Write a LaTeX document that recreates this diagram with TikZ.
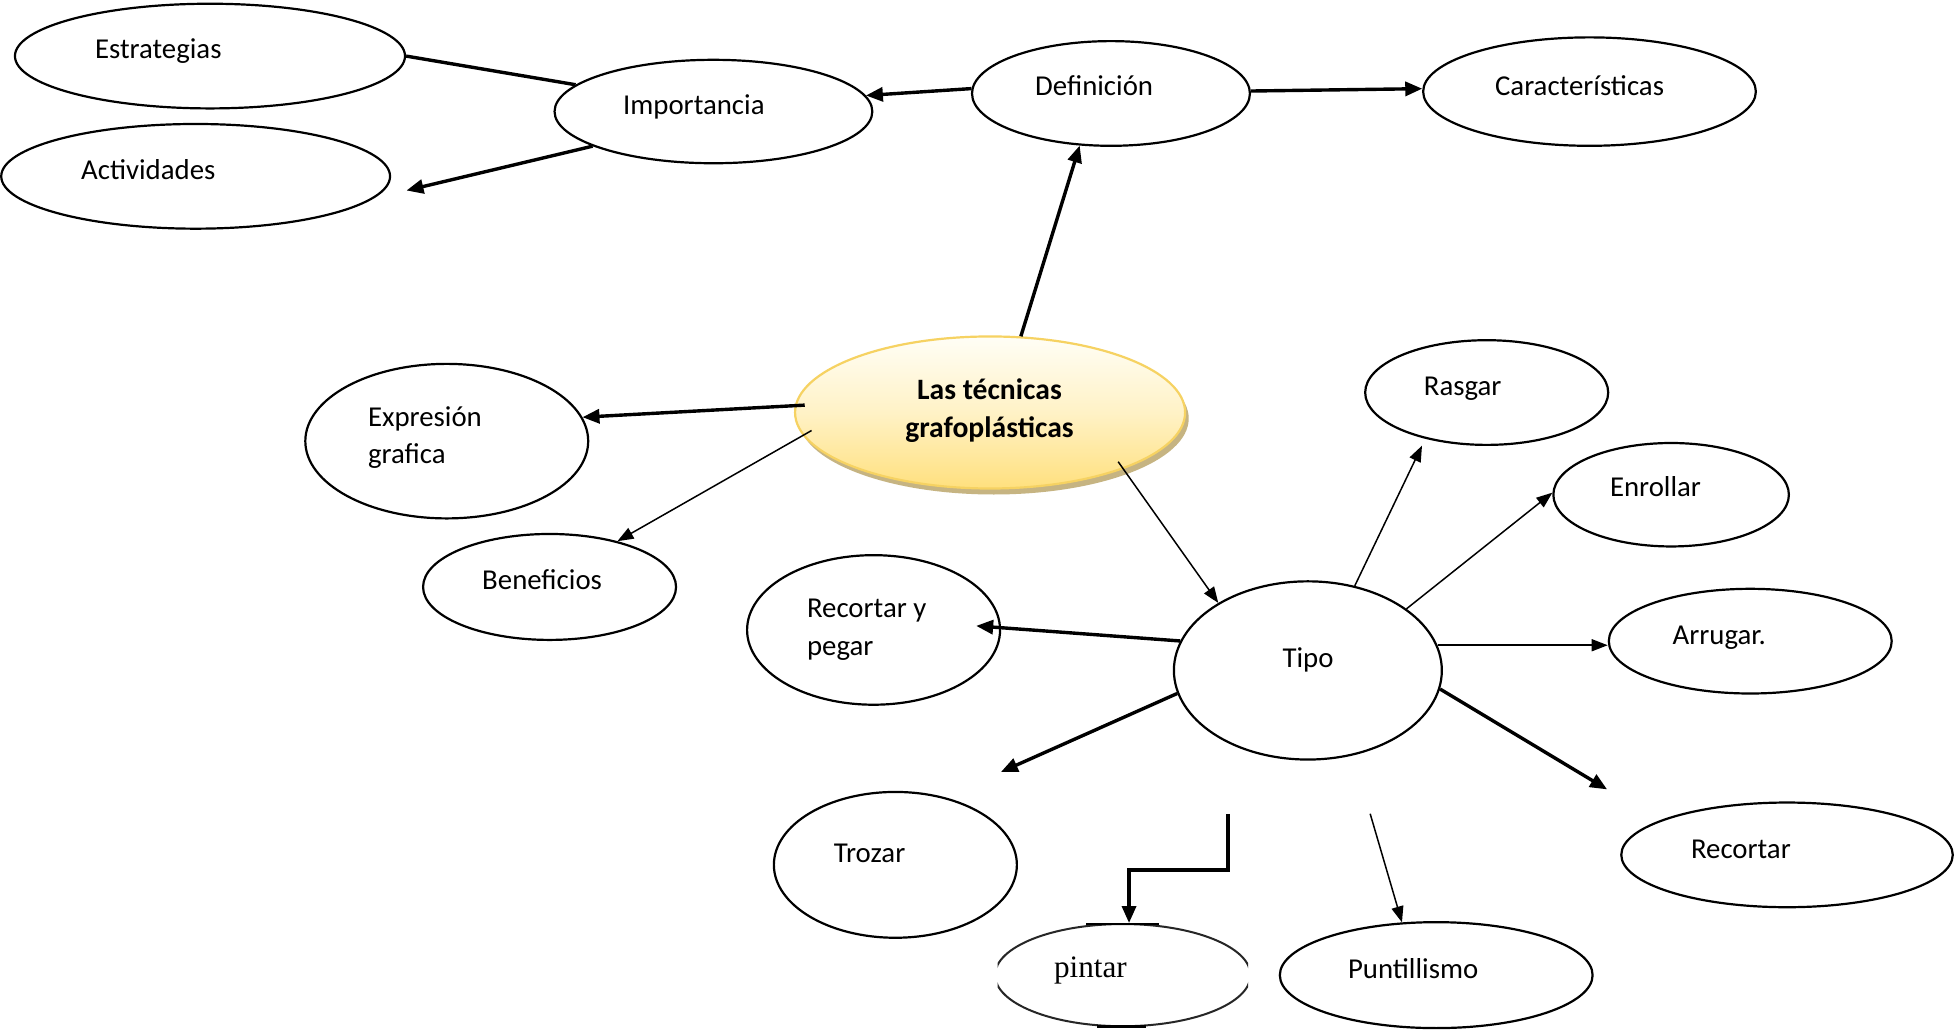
\documentclass[tikz,border=0pt]{standalone}
\usepackage{fontspec}
\setmainfont{Carlito}
\newfontfamily\timesf{Liberation Serif}
\usetikzlibrary{shapes.geometric,arrows.meta,shadows}
\definecolor{cgold}{HTML}{F6D262}
\definecolor{ctop}{HTML}{FFFEF6}
\definecolor{cmid}{HTML}{FFF2C6}
\definecolor{cbot}{HTML}{FFE07E}
\definecolor{shadowc}{HTML}{C6B482}
\begin{document}
\begin{tikzpicture}[x=0.6231pt,y=-0.6231pt,
  ell/.style 2 args={draw, ellipse, line width=1.1pt, inner sep=0pt,
    minimum width={#1*1.2462pt}, minimum height={#2*1.2462pt}},
  txt/.style={inner sep=0pt, font=\fontsize{14.4}{18.9}\selectfont},
  thk/.style={line width=1.7pt, -{Triangle[length=8.5pt,width=7pt]}},
  thn/.style={line width=0.75pt, -{Triangle[length=8pt,width=6pt]}},
  plainthk/.style={line width=1.7pt}]
\useasboundingbox (0,0) rectangle (1568,827);
\fill[white] (0,0) rectangle (1568,827);

% ellipses
\node[ell={156.5}{42}] (estr) at (168.5,45) {};
\node[ell={156}{42}] (acti) at (157,141.5) {};
\node[ell={127.5}{41.5}] (impo) at (572.5,89.5) {};
\node[ell={111.5}{42}] (defi) at (891.5,75) {};
\node[ell={133.5}{43.5}] (cara) at (1275.5,73.5) {};
\node[ell={156.5}{61}, draw=cgold, line width=1.1pt,
  top color=ctop, bottom color=cbot, middle color=cmid,
  drop shadow={shadow xshift=1.8pt, shadow yshift=-3pt, fill=shadowc, opacity=1}] (cent) at (794.5,331) {};
\node[ell={113.5}{62}] (expr) at (358.5,354) {};
\node[ell={101.5}{42.5}] (bene) at (441,471) {};
\node[ell={97.5}{42}] (rasg) at (1193,315) {};
\node[ell={94.5}{41.5}] (enro) at (1341,397) {};
\node[ell={113.5}{42}] (arru) at (1404.5,514.5) {};
\node[ell={107.5}{71.5}] (tipo) at (1049.5,538) {};
\node[ell={101.5}{60}] (repe) at (701,505.5) {};
\node[ell={97.5}{58.5}] (troz) at (718.5,694) {};
\node[ell={133}{42}] (reco) at (1434,686) {};
\begin{scope}
  \clip (800.5,735) rectangle (1001.5,830);
  \node[ell={102.5}{41}, draw=black!85, line width=1pt] (pint) at (901,782.5) {};
\end{scope}
\draw[line width=1.3pt] (871.5,741.5) -- (930,741.5);
\draw[line width=1.3pt] (880,823.5) -- (920,823.5);
\node[ell={125.5}{42.5}] (punt) at (1152.5,782.5) {};

% texts
\node[txt, anchor=base] (estr-t) at (127,46.8) {Estrategias};
\node[txt, anchor=base] (acti-t) at (119,144.4) {Actividades};
\node[txt, anchor=base] (impo-t) at (556.8,91.5) {Importancia};
\node[txt, anchor=base] (defi-t) at (878,76.5) {Definición};
\node[txt, anchor=base] (cara-t) at (1267.5,76.5) {Características};
\node[inner sep=0pt, anchor=base, font=\fontsize{14.8}{19.1}\selectfont\bfseries] (cent-t) at (794,320.5)
  {\begin{tabular}[t]{@{}c@{}}Las técnicas\\grafoplásticas\end{tabular}};
\node[txt, anchor=base west] (expr-t) at (295,342)
  {\begin{tabular}[t]{@{}l@{}}Expresión\\grafica\end{tabular}};
\node[txt, anchor=base] (bene-t) at (435,473.4) {Beneficios};
\node[txt, anchor=base] (rasg-t) at (1173.7,317) {Rasgar};
\node[txt, anchor=base] (enro-t) at (1328.5,398.5) {Enrollar};
\node[txt, anchor=base] (arru-t) at (1379.6,517) {Arrugar.};
\node[txt, anchor=base] (tipo-t) at (1049.6,536) {Tipo};
\node[txt, anchor=base west] (repe-t) at (647.3,495.3)
  {\begin{tabular}[t]{@{}l@{}}Recortar y\\pegar\end{tabular}};
\node[txt, anchor=base] (troz-t) at (697.8,692.3) {Trozar};
\node[txt, anchor=base] (reco-t) at (1397,689) {Recortar};
\node[inner sep=0pt, anchor=base, font=\timesf\fontsize{15.6}{18}\selectfont] (pint-t) at (875,784) {pintar};
\node[txt, anchor=base] (punt-t) at (1134,785) {Puntillismo};

% connectors
\draw[plainthk] (estr.-0.7) -- (impo.169.5);
\draw[thk, shorten >=16.7pt] (impo.196.75) -- (acti.-7);
\draw[thk] (defi.178.3) -- (impo.6.4);
\draw[thk] (defi.1.5) -- (cara.179.3);
\draw[thk] (cent.68.3) -- (defi.239.1);
\draw[thk, shorten <=-5pt] (cent.178.3) -- (expr.10.6);
\draw[thn, shorten <=-5pt] (cent.187.3) -- (bene.34.2);
\draw[thn, shorten <=-4.5pt] (cent.-23.7) -- (tipo.143.1);
\draw[thn, shorten >=3.8pt] (tipo.61.9) -- (rasg.217.1);
\draw[thn] (tipo.32.4) -- (enro.179.4);
\draw[thn] (tipo.11) -- (tipo.11 -| arru.west);
\draw[thk, shorten >=30.3pt] (tipo.-8.2) -- (reco.165.6);
\draw[thk, shorten >=-12.5pt] (tipo.167.5) -- (repe.1);
\draw[thk, shorten >=30.8pt] (tipo.190.9) -- (troz.54.3);
\coordinate (pstart) at (985.5,653);
\coordinate (pbend) at (906,698);
\draw[thk] (pstart) |- (pbend) -- (pbend |- pint.north);
\coordinate (ustart) at (1099.5,653);
\draw[thn] (ustart) -- (punt.123.7);
\end{tikzpicture}
\end{document}
